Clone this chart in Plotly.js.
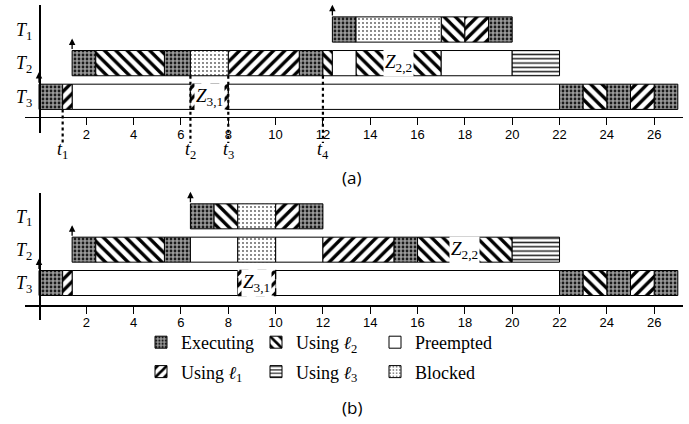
<!DOCTYPE html>
<html><head><meta charset="utf-8">
<script src="https://cdn.plot.ly/plotly-3.0.1.min.js"></script>
<style>html,body{margin:0;padding:0;background:#fff}</style>
</head><body><div id="chart" style="width:689px;height:424px"></div>
<script>
// ---------- data ----------
const tasks = ['T3', 'T2', 'T1'];
const taskLabels = ['<i>T</i><sub>3</sub>', '<i>T</i><sub>2</sub>', '<i>T</i><sub>1</sub>'];
const xTicks = [2, 4, 6, 8, 10, 12, 14, 16, 18, 20, 22, 24, 26];

// panel (a)
const aT1Bounds = [12.4, 13.4, 17, 18, 19, 20];
const aT1States = ['exec', 'blocked', 'l2', 'l1', 'exec'];
const aT2Bounds = [1.4, 2.4, 5.3, 6.4, 8, 11, 12, 12.4, 13.4, 17, 20, 22];
const aT2States = ['exec', 'l2', 'exec', 'blocked', 'l1', 'exec', 'l2', 'pre', 'l2', 'pre', 'l3'];
const aT3Bounds = [0, 1, 1.4, 6.4, 8, 22, 23, 24, 25, 26, 27];
const aT3States = ['exec', 'l1', 'pre', 'l1', 'pre', 'exec', 'l2', 'exec', 'l1', 'exec'];
const aZTasks = ['T3', 'T2'];
const aZSegs = [3, 8];
const aZNames = ['<i>Z</i><sub>3,1</sub>', '<i>Z</i><sub>2,2</sub>'];
const aMarkTimes = [1, 6.4, 8, 12];
const aMarkFrom = ['T3', 'T2', 'T2', 'T2'];
const aMarkNames = ['<i>t</i><sub>1</sub>', '<i>t</i><sub>2</sub>', '<i>t</i><sub>3</sub>', '<i>t</i><sub>4</sub>'];

// panel (b)
const bT1Bounds = [6.4, 7.4, 8.4, 10, 11, 12];
const bT1States = ['exec', 'l2', 'blocked', 'l1', 'exec'];
const bT2Bounds = [1.4, 2.4, 5.3, 6.4, 8.4, 10, 12, 15, 16, 20, 22];
const bT2States = ['exec', 'l2', 'exec', 'pre', 'blocked', 'pre', 'l1', 'exec', 'l2', 'l3'];
const bT3Bounds = [0, 1, 1.4, 8.4, 10, 22, 23, 24, 25, 26, 27];
const bT3States = ['exec', 'l1', 'pre', 'l1', 'pre', 'exec', 'l2', 'exec', 'l1', 'exec'];
const bZTasks = ['T3', 'T2'];
const bZSegs = [3, 8];
const bZNames = ['<i>Z</i><sub>3,1</sub>', '<i>Z</i><sub>2,2</sub>'];

const stateOrder = ['exec', 'l2', 'pre', 'l1', 'l3', 'blocked'];
const stateNames = {
  exec: 'Executing', l2: 'Using <i>ℓ</i><sub>2</sub>', pre: 'Preempted',
  l1: 'Using <i>ℓ</i><sub>1</sub>', l3: 'Using <i>ℓ</i><sub>3</sub>', blocked: 'Blocked'
};

// ---------- styles ----------
const SERIF = 'Liberation Serif, DejaVu Serif, serif';
const stateStyle = {
  exec: {color: '#8a8a8a', pattern: {shape: '.', fgcolor: '#1a1a1a', bgcolor: '#999999', size: 4, solidity: 0.38}},
  l2: {color: '#fff', pattern: {shape: '\\', fgcolor: '#000', bgcolor: '#fff', size: 8, solidity: 0.42}},
  pre: {color: '#fff'},
  l1: {color: '#fff', pattern: {shape: '/', fgcolor: '#000', bgcolor: '#fff', size: 8, solidity: 0.42}},
  l3: {color: '#fff', pattern: {shape: '-', fgcolor: '#222', bgcolor: '#fff', size: 4.3, solidity: 0.35}},
  blocked: {color: '#fff', pattern: {shape: '.', fgcolor: '#555', bgcolor: '#fff', size: 4, solidity: 0.16}}
};
const legendOf = {exec: 'legend', l1: 'legend', l2: 'legend2', l3: 'legend2', pre: 'legend3', blocked: 'legend3'};
const BARW = 0.75;

const panels = [
  {xa: 'x', ya: 'y', xk: 'xaxis', yk: 'yaxis', dom: [133, 5], axisPx: 116.7, range: [-1.076, 2.728],
   bounds: [aT3Bounds, aT2Bounds, aT1Bounds], states: [aT3States, aT2States, aT1States],
   zT: aZTasks, zS: aZSegs, zN: aZNames, legend: true, label: '(a)', labelPx: [351.7, 178]},
  {xa: 'x2', ya: 'y2', xk: 'xaxis2', yk: 'yaxis2', dom: [320, 193], axisPx: 305, range: [-1.11, 2.70],
   bounds: [bT3Bounds, bT2Bounds, bT1Bounds], states: [bT3States, bT2States, bT1States],
   zT: bZTasks, zS: bZSegs, zN: bZNames, legend: false, label: '(b)', labelPx: [352, 407]}
];

const W = 689, H = 424;
const py = p => 1 - p / H;
const traces = [], shapes = [], annotations = [];
const layout = {
  width: W, height: H, margin: {l: 0, r: 0, t: 0, b: 0},
  paper_bgcolor: '#fff', plot_bgcolor: 'rgba(0,0,0,0)',
  barmode: 'overlay', hovermode: false,
  shapes: shapes, annotations: annotations
};

panels.forEach(P => {
  const zKey = new Set(P.zT.map((t, i) => t + ':' + P.zS[i]));
  stateOrder.forEach(st => {
    const y = [], base = [], len = [], lw = [];
    P.bounds.forEach((b, ti) => {
      P.states[ti].forEach((s, si) => {
        if (s !== st) return;
        y.push(ti); base.push(b[si]); len.push(b[si + 1] - b[si]);
        const dashed = zKey.has(tasks[ti] + ':' + si) && tasks[ti] === 'T3';
        lw.push(dashed ? 0 : 1);
      });
    });
    const sty = stateStyle[st];
    const marker = {color: sty.color, line: {color: '#000', width: lw}};
    if (sty.pattern) marker.pattern = Object.assign({fillmode: 'replace'}, sty.pattern);
    traces.push({
      type: 'bar', orientation: 'h', xaxis: P.xa, yaxis: P.ya,
      y: y, base: base, x: len, width: BARW, marker: marker,
      name: stateNames[st], showlegend: P.legend, legend: legendOf[st], legendgroup: st,
      hoverinfo: 'skip'
    });
  });
  // Z zones
  P.zT.forEach((t, i) => {
    const ti = tasks.indexOf(t), b = P.bounds[ti], s = P.zS[i];
    if (t === 'T3') {
      shapes.push({type: 'rect', xref: P.xa, yref: P.ya, x0: b[s], x1: b[s + 1],
        y0: ti - BARW / 2, y1: ti + BARW / 2, line: {color: '#000', width: 1.3, dash: 'dash'}, layer: 'above'});
    }
    annotations.push({xref: P.xa, yref: P.ya, x: (b[s] + b[s + 1]) / 2, y: ti, text: P.zN[i],
      showarrow: false, bgcolor: '#fff', borderpad: 1,
      font: {family: SERIF, size: 19, color: '#000'}});
  });
  // arrival arrows
  P.bounds.forEach((b, ti) => {
    annotations.push({xref: P.xa, yref: P.ya, axref: P.xa, ayref: P.ya,
      x: b[0], y: ti + BARW / 2 + 0.36, ax: b[0], ay: ti + BARW / 2, text: '',
      showarrow: true, arrowhead: 2, arrowsize: 1, arrowwidth: 1.3, arrowcolor: '#000'});
  });
  // axes
  layout[P.xk] = {domain: [25 / W, 683 / W], range: [(25 - 39) / 23.66, (683 - 39) / 23.66],
    anchor: 'free', position: py(P.axisPx), showline: true, linecolor: '#000', linewidth: 1.5,
    ticks: 'outside', ticklen: 7, tickwidth: 1, tickcolor: '#000', tickvals: xTicks,
    ticklabelstandoff: -2,
    tickfont: {family: 'Liberation Sans, Arial, sans-serif', size: 13, color: '#000'},
    showgrid: false, zeroline: false, fixedrange: true};
  layout[P.yk] = {domain: [py(P.dom[0]), py(P.dom[1])], range: P.range,
    anchor: 'free', position: 39 / W, showline: true, linecolor: '#000', linewidth: 1.5,
    ticks: '', tickvals: [0, 1, 2], ticktext: taskLabels, ticklabelstandoff: 3,
    tickfont: {family: SERIF, size: 18, color: '#000'},
    showgrid: false, zeroline: false, fixedrange: true};
  annotations.push({xref: 'paper', yref: 'paper', x: P.labelPx[0] / W, y: py(P.labelPx[1]),
    xanchor: 'center', yanchor: 'middle',
    text: P.label, showarrow: false, font: {family: 'Open Sans, sans-serif', size: 17, color: '#000'}});
});

// time marks in panel (a)
const yToPaper = (v) => {
  const P = panels[0];
  const top = py(P.dom[1]), bot = py(P.dom[0]);
  return bot + (v - P.range[0]) / (P.range[1] - P.range[0]) * (top - bot);
};
aMarkTimes.forEach((t, i) => {
  const ti = tasks.indexOf(aMarkFrom[i]);
  shapes.push({type: 'line', xref: 'x', yref: 'paper', x0: t, x1: t,
    y0: yToPaper(ti - BARW / 2), y1: py(143), line: {color: '#000', width: 2.2, dash: 'dot'}, layer: 'above'});
  annotations.push({xref: 'x', yref: 'paper', x: t, y: py(150), text: aMarkNames[i], showarrow: false,
    yanchor: 'middle', font: {family: SERIF, size: 18, color: '#000'}});
});

// legends (three columns)
const legBase = {xanchor: 'left', yanchor: 'top', y: py(324), bgcolor: 'rgba(0,0,0,0)',
  borderwidth: 0, tracegroupgap: 3, orientation: 'v',
  font: {family: SERIF, size: 18, color: '#000'}};
layout.legend = Object.assign({}, legBase, {x: 141 / W});
layout.legend2 = Object.assign({}, legBase, {x: 256 / W});
layout.legend3 = Object.assign({}, legBase, {x: 375 / W});

Plotly.newPlot('chart', traces, layout, {staticPlot: true, displayModeBar: false});
</script></body></html>
